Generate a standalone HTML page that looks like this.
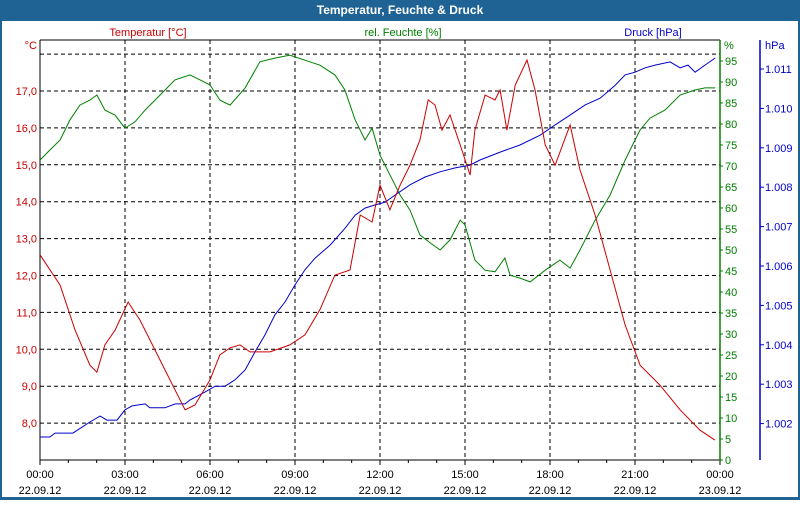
<!DOCTYPE html>
<html><head><meta charset="utf-8"><style>
body{margin:0;background:#fff;}
svg text{font-family:"Liberation Sans",sans-serif;font-size:11px;}
</style></head><body>
<svg id="chart" width="800" height="500" xmlns="http://www.w3.org/2000/svg">
<rect x="0" y="0" width="800" height="500" fill="#1f6294"/>
<rect x="2" y="21" width="796" height="476" fill="#fff"/>
<text x="400" y="14" text-anchor="middle" fill="#fff" font-weight="bold" style="font-size:12px">Temperatur, Feuchte &amp; Druck</text>
<text x="148" y="36" text-anchor="middle" fill="#cc0000">Temperatur [°C]</text>
<text x="403" y="36" text-anchor="middle" fill="#008000">rel. Feuchte [%]</text>
<text x="653" y="36" text-anchor="middle" fill="#0000cc">Druck [hPa]</text>
<text x="37" y="49" text-anchor="end" fill="#cc0000">°C</text>
<text x="724" y="49" fill="#008000">%</text>
<text x="765" y="49" fill="#0000cc">hPa</text>
<g id="grid"></g><g id="axes"></g><g id="series"></g>
</svg>
<script>
const NS="http://www.w3.org/2000/svg";
const tempHours=[0,0.71,1.24,1.76,2.01,2.29,2.65,3.11,3.53,4.06,4.59,5.12,5.47,6.0,6.35,6.71,7.06,7.41,8.12,8.82,9.35,9.88,10.41,10.94,11.3,11.72,12.0,12.35,12.71,13.06,13.41,13.7,13.94,14.19,14.47,14.83,15.18,15.35,15.71,16.06,16.24,16.48,16.77,17.19,17.47,17.83,18.18,18.71,19.06,19.59,20.12,20.65,21.18,21.88,22.59,23.29,23.82];
const tempValues=[12.56,11.74,10.52,9.57,9.38,10.12,10.52,11.28,10.79,9.98,9.17,8.36,8.49,9.17,9.85,10.04,10.12,9.93,9.93,10.12,10.39,11.07,12.01,12.15,13.64,13.45,14.45,13.78,14.45,14.99,15.67,16.76,16.62,15.94,16.35,15.54,14.72,15.94,16.89,16.76,17.03,15.94,17.16,17.84,17.03,15.54,14.99,16.08,14.86,13.64,12.15,10.66,9.57,9.03,8.36,7.81,7.54];
const humHours=[0,0.35,0.71,1.06,1.41,1.76,2.01,2.29,2.65,3.0,3.35,3.71,4.24,4.76,5.29,5.65,6.0,6.35,6.71,7.24,7.76,8.29,8.82,9.35,9.88,10.41,10.76,11.12,11.47,11.72,12.0,12.35,12.71,13.06,13.41,13.77,14.12,14.47,14.83,15.0,15.35,15.71,16.06,16.41,16.59,16.94,17.3,17.83,18.35,18.71,19.06,19.59,20.12,20.65,21.18,21.53,22.06,22.59,23.12,23.47,23.83];
const humValues=[71.4,73.8,76.2,81.0,84.5,85.7,86.9,83.3,82.1,79.0,80.5,83.3,86.9,90.5,91.7,90.5,89.3,85.7,84.5,88.6,94.8,95.7,96.4,95.2,94.0,91.7,88.1,81.0,76.2,79.0,72.6,67.9,63.1,59.5,53.6,51.7,50.0,52.4,57.1,56.0,47.6,45.2,44.8,48.1,44.0,43.3,42.4,45.2,47.6,45.7,50.0,57.1,63.1,71.4,78.6,81.4,83.3,86.9,88.1,88.6,88.6];
const presHours=[0,0.35,0.53,1.16,1.76,2.12,2.36,2.72,3.0,3.25,3.71,3.88,4.41,4.77,5.12,5.29,5.82,6.18,6.53,6.88,7.24,7.59,7.94,8.29,8.65,9.0,9.35,9.71,10.24,10.77,11.12,11.47,11.83,12.18,12.53,13.06,13.59,14.12,14.65,15.18,15.53,16.24,16.94,17.65,18.18,18.71,19.24,19.77,20.3,20.65,21.0,21.36,21.71,22.24,22.59,22.87,23.12,23.47,23.83];
const presValues=[1001.66,1001.66,1001.76,1001.76,1002.04,1002.19,1002.09,1002.09,1002.35,1002.45,1002.50,1002.40,1002.40,1002.50,1002.50,1002.60,1002.80,1002.95,1002.95,1003.11,1003.36,1003.82,1004.25,1004.76,1005.09,1005.52,1005.90,1006.20,1006.53,1006.96,1007.29,1007.47,1007.55,1007.62,1007.80,1008.06,1008.26,1008.39,1008.49,1008.56,1008.69,1008.89,1009.07,1009.32,1009.58,1009.83,1010.09,1010.26,1010.59,1010.85,1010.92,1011.03,1011.10,1011.18,1011.03,1011.10,1010.92,1011.10,1011.28];
const tempTicks=[8,9,10,11,12,13,14,15,16,17];
const humTicks=[0,5,10,15,20,25,30,35,40,45,50,55,60,65,70,75,80,85,90,95];
const presTicks=[1002,1003,1004,1005,1006,1007,1008,1009,1010,1011];
const timeLabels=["00:00","03:00","06:00","09:00","12:00","15:00","18:00","21:00","00:00"];
const dateLabels=["22.09.12","22.09.12","22.09.12","22.09.12","22.09.12","22.09.12","22.09.12","22.09.12","23.09.12"];

const X0=40,X1=720,Y0=40,Y1=460;
const xS=h=>X0+h*(X1-X0)/24;
const yT=t=>91+(17-t)*36.9;
const yH=p=>460-p*4.2;
const yP=p=>69+(1011-p)*39.4;
const grid=document.getElementById('grid'),axes=document.getElementById('axes'),ser=document.getElementById('series');
function mk(tag,attrs,parent){const e=document.createElementNS(NS,tag);for(const k in attrs)e.setAttribute(k,attrs[k]);parent.appendChild(e);return e;}
// horizontal grid
[...tempTicks,18].forEach(t=>{const l=mk('line',{x1:X0,x2:X1,y1:yT(t),y2:yT(t),stroke:'#000','stroke-dasharray':'4,3'},grid);

});
timeLabels.forEach((s,i)=>{const x=xS(i*3);
if(i>0&&i<8){const l=mk('line',{x1:x,x2:x,y1:Y0,y2:Y1,stroke:'#000','stroke-dasharray':'4,3'},grid);

}
const t=mk('text',{x:x,y:478,'text-anchor':'middle',fill:'#000'},axes);t.textContent=s;


const d=mk('text',{x:x,y:494,'text-anchor':'middle',fill:'#000'},axes);d.textContent=dateLabels[i];

});
for(let h=0;h<=24;h++){const x=xS(h);const l=mk('line',{x1:x,x2:x,y1:Y1,y2:Y1+(h%3==0?5:3),stroke:'#000'},axes);

}
// axis lines
let a=mk('line',{x1:X0,x2:X0,y1:Y0,y2:Y1,stroke:'#000'},axes);


a=mk('line',{x1:X0,x2:X1,y1:Y1,y2:Y1,stroke:'#000'},axes);


a=mk('line',{x1:X0,x2:X1,y1:Y0,y2:Y0,stroke:'#000'},axes);


a=mk('line',{x1:X1,x2:X1,y1:Y0,y2:Y1+1,stroke:'#008000','stroke-width':1.5},axes);


a=mk('line',{x1:760,x2:760,y1:Y0,y2:Y1,stroke:'#0000cc','stroke-width':1.5},axes);


tempTicks.forEach(t=>{const e=mk('text',{x:37,y:yT(t)+4,'text-anchor':'end',fill:'#cc0000'},axes);e.textContent=t.toFixed(1).replace('.',',');

});
humTicks.forEach(p=>{const y=yH(p);mk('line',{x1:X1,x2:X1+3,y1:y,y2:y,stroke:'#008000'},axes);
const e=mk('text',{x:725,y:y+4,fill:'#008000'},axes);e.textContent=p;

});
presTicks.forEach(p=>{const y=yP(p);mk('line',{x1:760,x2:764,y1:y,y2:y,stroke:'#0000cc'},axes);
const e=mk('text',{x:765,y:y+4,fill:'#0000cc'},axes);e.textContent=(p/1000).toFixed(3);

});
function line(hs,vs,yf,col){return hs.map((h,i)=>xS(h).toFixed(1)+','+yf(vs[i]).toFixed(1)).join(' ');}
let s=mk('polyline',{points:line(humHours,humValues,yH),fill:'none',stroke:'#008000'},ser);


s=mk('polyline',{points:line(presHours,presValues,yP),fill:'none',stroke:'#0000cc'},ser);


s=mk('polyline',{points:line(tempHours,tempValues,yT),fill:'none',stroke:'#cc0000'},ser);


</script>
</body></html>
